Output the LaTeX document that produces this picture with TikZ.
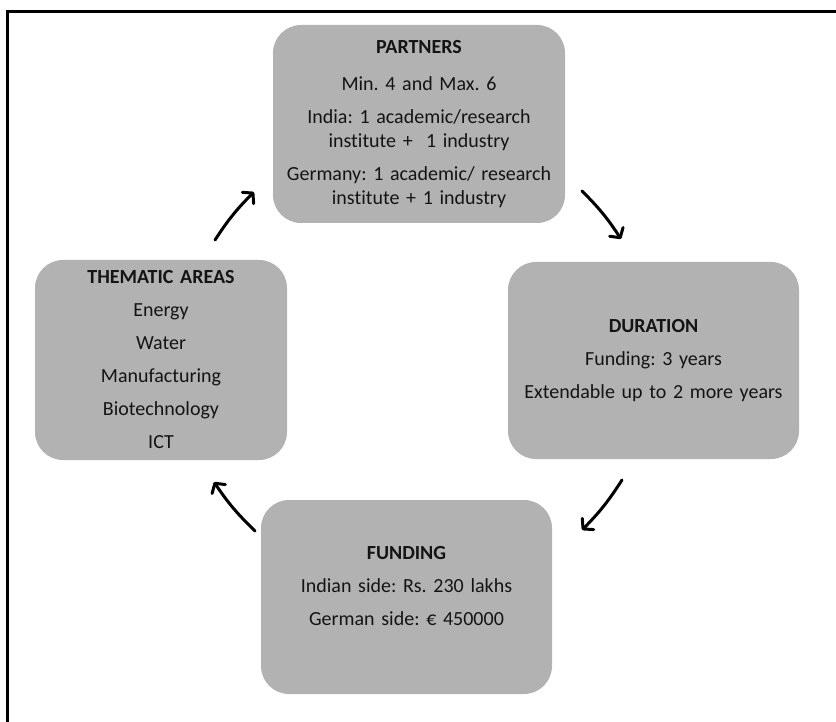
\documentclass[tikz,border=0pt]{standalone}
\usepackage{fontspec}
\setmainfont{Carlito}[Ligatures=NoCommon]
\usetikzlibrary{arrows.meta}
\definecolor{cardfill}{RGB}{178,178,178}
\definecolor{ink}{RGB}{20,20,20}
\frenchspacing
\begin{document}
\begin{tikzpicture}[x=1pt,y=-1pt,
  card/.style={fill=cardfill, rounded corners=28pt, text=ink, align=center,
    inner sep=0pt, font={\fontsize{20}{24}\selectfont\parskip=9pt}},
  flow/.style={line width=3pt, line cap=round,
    -{Straight Barb[length=7pt,width=16pt,line cap=round,line join=round]},
    bend left=6}]
\useasboundingbox (0,0) rectangle (836,722);
\clip (0,0) rectangle (836,722);
% outer frame
\draw[line width=3pt] (7,740) |- (850,11.5);

% the four cards
\node[card, text width=288pt, minimum width=292pt, minimum height=198pt] (part) at (419,124)
  {\vspace{4pt}\textbf{PARTNERS}\par
   Min. 4 and Max. 6\par
   India: 1 academic/research\\ institute +~ 1 industry\par
   Germany: 1 academic/ research\\ institute + 1 industry};
\node[card, text width=288pt, minimum width=291pt, minimum height=197pt] (dur) at (653.5,360.5)
  {\textbf{DURATION}\par
   Funding: 3 years\par
   Extendable up to 2 more years};
\node[card, text width=248pt, minimum width=252pt, minimum height=200pt] (them) at (161,360)
  {\textbf{THEMATIC AREAS}\par
   Energy\par Water\par Manufacturing\par Biotechnology\par ICT};
\node[card, text width=288pt, minimum width=291pt, minimum height=194pt] (fund) at (406.5,597)
  {\textbf{FUNDING}\par
   Indian side: Rs. 230 lakhs\par
   German side: € 450000\par\vspace{21pt}};

% arrow ends between the cards
\coordinate (themOut) at (215,240);
\coordinate (partIn)  at (254,192);
\coordinate (partOut) at (582,191);
\coordinate (durIn)   at (621,239);
\coordinate (durOut)  at (622,480);
\coordinate (fundIn)  at (582,530);
\coordinate (fundOut) at (255,531);
\coordinate (themIn)  at (214,482);

\draw[flow] (themOut) to (partIn);
\draw[flow] (partOut) to (durIn);
\draw[flow] (durOut) to (fundIn);
\draw[flow] (fundOut) to (themIn);
\end{tikzpicture}
\end{document}
